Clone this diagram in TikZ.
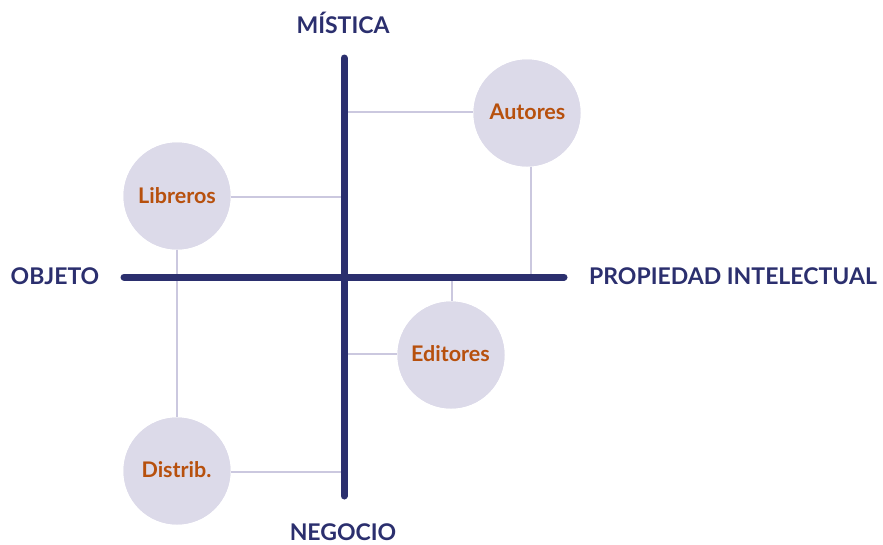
\documentclass[tikz,border=0pt]{standalone}
\usepackage{fontspec}
\setmainfont{Lato}
\definecolor{navy}{HTML}{2B2F6E}
\definecolor{bubble}{HTML}{DCDAE9}
\definecolor{thin}{HTML}{CBC8DF}
\definecolor{rust}{HTML}{B7500D}
\tikzset{
  axis/.style={draw=navy, line width=7pt, line cap=round},
  axlabel/.style={text=navy, font=\fontsize{23}{25}\selectfont\bfseries, inner sep=0pt, anchor=base},
  bub/.style={circle, fill=bubble, minimum size=107pt, inner sep=0pt},
  bublabel/.style={text=rust, font=\fontsize{21.5}{23}\selectfont\bfseries, inner sep=0pt, anchor=base},
  link/.style={draw=thin, line width=1.3pt}
}
\begin{document}
\begin{tikzpicture}[x=1pt,y=-1pt]
\useasboundingbox (0,0) rectangle (883,544);
% axis endpoints
\coordinate (vt) at (344,58);
\coordinate (vb) at (344,496);
\coordinate (hl) at (124,277);
\coordinate (hr) at (564,277);
% bubbles
\node[bub] (aut) at (527,113) {};
\node[bub] (lib) at (177,196) {};
\node[bub] (dis) at (177,471) {};
\node[bub] (edi) at (451,355) {};
% attach points on axes
\coordinate (a1) at (344,112);
\coordinate (a2) at (531,277);
\coordinate (l1) at (344,197);
\coordinate (d1) at (344,472);
\coordinate (e1) at (344,354);
\coordinate (e2) at (452,277);
% thin links
\draw[link] (a1) -- (aut.west |- a1);
\draw[link] (a2) -- (a2 |- aut.south);
\draw[link] (l1) -- (lib.east |- l1);
\draw[link] (lib.south) -- (dis.north);
\draw[link] (d1) -- (dis.east |- d1);
\draw[link] (e1) -- (edi.west |- e1);
\draw[link] (e2) -- (e2 |- edi.north);
% redraw bubbles on top
\node[bub] at (aut) {};
\node[bub] at (lib) {};
\node[bub] at (dis) {};
\node[bub] at (edi) {};
% bubble labels
\node[bublabel] (taut) at (527.5,119) {Autores};
\node[bublabel] (tlib) at (177,203) {Libreros};
\node[bublabel] (tdis) at (176.5,477) {Distrib.};
\node[bublabel] (tedi) at (450.5,361) {Editores};
% axes
\draw[axis] (vt) -- (vb);
\draw[axis] (hl) -- (hr);
% labels
\node[axlabel] (mis) at (343,33) {MÍSTICA};
\node[axlabel] (neg) at (343,540.5) {NEGOCIO};
\node[axlabel] (obj) at (55,284) {OBJETO};
\node[axlabel] (pro) at (733,284) {PROPIEDAD INTELECTUAL};
\end{tikzpicture}
\end{document}
